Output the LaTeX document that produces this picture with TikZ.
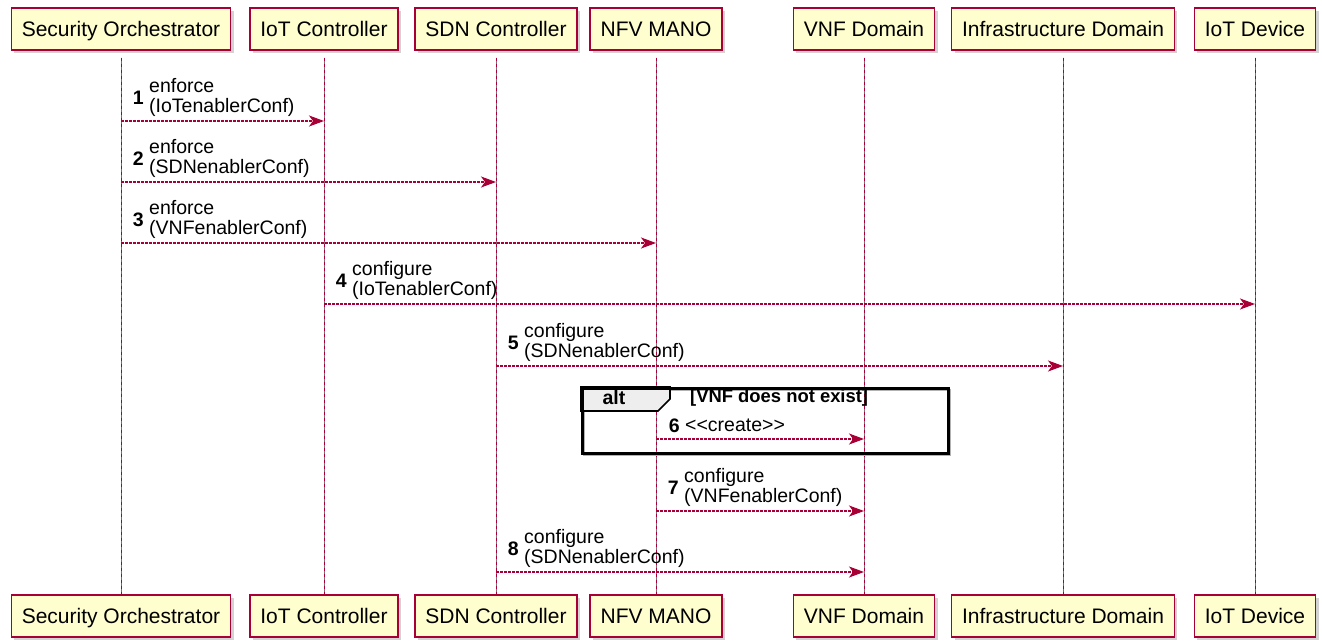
\documentclass[tikz,border=0pt]{standalone}
\usepackage{fontspec}
\setmainfont{Liberation Sans}
\usetikzlibrary{arrows.meta, positioning, shadows}
\definecolor{umlRed}{HTML}{A80036}
\definecolor{umlFill}{HTML}{FEFECE}
\definecolor{umlTab}{HTML}{EEEEEE}

\begin{document}
\begin{tikzpicture}[x=1pt, y=-1pt,
    part/.style={draw=umlRed, line width=1.4pt, fill=umlFill, minimum height=42pt,
      inner xsep=10.5pt, text height=15pt, text depth=0pt, font=\fontsize{21}{24}\selectfont,
      drop shadow={shadow xshift=3pt, shadow yshift=-3pt, opacity=0.35}},
    life/.style={umlRed, line width=0.9pt, dash pattern=on 3pt off 3pt},
    msg/.style={umlRed, line width=1.1pt, dash pattern=on 2.5pt off 1.5pt,
      -{Stealth[length=15pt, width=11pt, inset=4pt]}},
    lbl/.style={inner sep=0pt, align=left, font=\fontsize{19.5}{20}\selectfont},
    num/.style={inner sep=0pt, font=\fontsize{19.5}{20}\selectfont\bfseries},
    altframe/.style={draw=black, line width=2.5pt, minimum width=366pt, minimum height=65pt,
      anchor=north west, inner sep=0pt},
    cond/.style={inner sep=0pt, font=\fontsize{18.4}{20}\selectfont\bfseries}]
  \useasboundingbox (0,0) rectangle (1322,642);

  % Participants, top and bottom, with lifelines
  \foreach \n/\x/\t in {so/121/Security Orchestrator, ic/324/IoT Controller,
      sdn/496/SDN Controller, mano/656/NFV MANO, vnf/864/VNF Domain,
      infra/1063/Infrastructure Domain, dev/1255/IoT Device} {
    \node[part] (\n) at (\x,29) {\t};
    \node[part] (\n b) at (\x,616) {\t};
    \draw[black!55, line width=0.8pt, shorten <=7pt] (\n) -- (\n b);
    \draw[life, shorten <=7pt] (\n) -- (\n b);
  }

  % alt fragment
  \coordinate (altnw) at (581,387);
  \draw[black!30, line width=2.5pt] (584,390) rectangle (950,455);
  \draw[fill=umlTab, line width=1.6pt] (altnw) -- ++(89,0) -- ++(0,12) -- ++(-12,12) -- ++(-77,0) -- cycle;
  \node[altframe] (alt) at (altnw) {};
  \node[num] (altk) at (614,398) {alt};
  \node[cond, anchor=west] (altc) at (690,398) {[VNF does not exist]};

  % Messages
  \coordinate (m1) at (so |- 0,121);
  \draw[msg] (m1) -- (ic |- m1);
  \node[lbl, above right=4pt and 28pt of m1] (l1) {enforce\\(IoTenablerConf)};
  \node[num, left=5pt of l1] (n1) {1};

  \coordinate (m2) at (so |- 0,182);
  \draw[msg] (m2) -- (sdn |- m2);
  \node[lbl, above right=4pt and 28pt of m2] (l2) {enforce\\(SDNenablerConf)};
  \node[num, left=5pt of l2] (n2) {2};

  \coordinate (m3) at (so |- 0,243);
  \draw[msg] (m3) -- (mano |- m3);
  \node[lbl, above right=4pt and 28pt of m3] (l3) {enforce\\(VNFenablerConf)};
  \node[num, left=5pt of l3] (n3) {3};

  \coordinate (m4) at (ic |- 0,304);
  \draw[msg] (m4) -- (dev |- m4);
  \node[lbl, above right=4pt and 28pt of m4] (l4) {configure\\(IoTenablerConf)};
  \node[num, left=5pt of l4] (n4) {4};

  \coordinate (m5) at (sdn |- 0,366);
  \draw[msg] (m5) -- (infra |- m5);
  \node[lbl, above right=4pt and 28pt of m5] (l5) {configure\\(SDNenablerConf)};
  \node[num, left=5pt of l5] (n5) {5};

  \coordinate (m6) at (mano |- 0,439);
  \draw[msg] (m6) -- (vnf |- m6);
  \node[lbl, above right=7pt and 29pt of m6] (l6) {<\kern0pt<create>\kern0pt>};
  \node[num, left=5pt of l6] (n6) {6};

  \coordinate (m7) at (mano |- 0,511);
  \draw[msg] (m7) -- (vnf |- m7);
  \node[lbl, above right=4pt and 28pt of m7] (l7) {configure\\(VNFenablerConf)};
  \node[num, left=5pt of l7] (n7) {7};

  \coordinate (m8) at (sdn |- 0,572);
  \draw[msg] (m8) -- (vnf |- m8);
  \node[lbl, above right=4pt and 28pt of m8] (l8) {configure\\(SDNenablerConf)};
  \node[num, left=5pt of l8] (n8) {8};
\end{tikzpicture}
\end{document}
